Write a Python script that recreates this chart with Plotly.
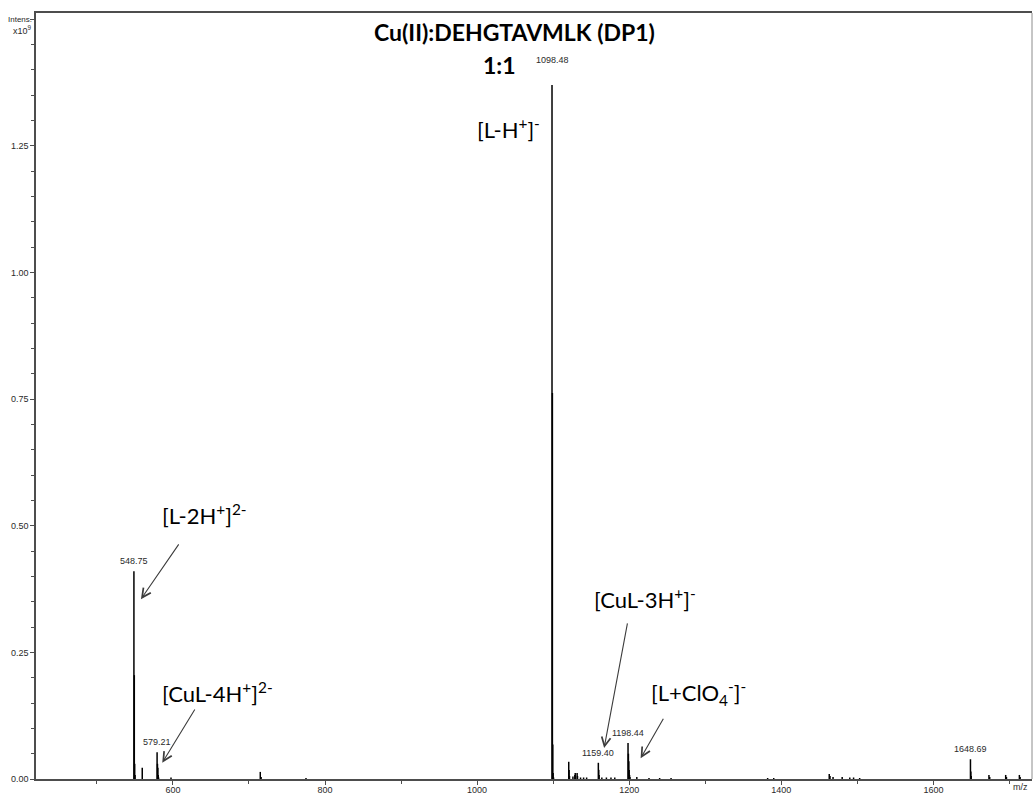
import plotly.graph_objects as go

# ---- data (intensity in units of 1e9) ----
mz = [548.75, 549.25, 549.75, 550.25, 559.7, 579.21, 579.71, 580.21, 580.71, 581.2,
      597.5, 714.9, 716.0, 775.0,
      1098.48, 1098.98, 1099.48, 1099.98, 1100.5,
      1120.46, 1120.96, 1121.46, 1126.0, 1128.5, 1129.0, 1131.5, 1132.0, 1136.0, 1140.0, 1144.0,
      1159.40, 1159.90, 1160.40, 1164.0, 1170.0, 1176.0, 1181.0,
      1198.44, 1198.94, 1199.44, 1199.94, 1200.44, 1201.0, 1210.0, 1226.0, 1240.0, 1255.0,
      1382.0, 1390.0, 1463.0, 1464.0, 1468.0, 1480.0, 1490.0, 1495.0, 1503.0,
      1648.69, 1649.19, 1649.69, 1673.0, 1674.0, 1695.0, 1696.0, 1713.0, 1714.0]
intensity = [0.410, 0.205, 0.030, 0.008, 0.022, 0.053, 0.030, 0.022, 0.008, 0.003,
             0.003, 0.014, 0.004, 0.002,
             1.370, 0.762, 0.068, 0.012, 0.003,
             0.034, 0.018, 0.006, 0.005, 0.008, 0.012, 0.012, 0.006, 0.003, 0.003, 0.003,
             0.032, 0.018, 0.008, 0.003, 0.003, 0.003, 0.003,
             0.071, 0.050, 0.035, 0.018, 0.008, 0.004, 0.004, 0.002, 0.002, 0.002,
             0.002, 0.002, 0.010, 0.006, 0.004, 0.004, 0.003, 0.003, 0.002,
             0.039, 0.015, 0.006, 0.008, 0.004, 0.008, 0.004, 0.008, 0.004]

peak_labels = ["548.75", "579.21", "1098.48", "1159.40", "1198.44", "1648.69"]
peak_label_mz = [548.75, 579.21, 1098.48, 1159.40, 1198.44, 1648.69]
peak_label_int = [0.410, 0.053, 1.370, 0.032, 0.071, 0.039]

ion_labels = ["[L-H<sup>+</sup>]<sup>-</sup>",
              "[L-2H<sup>+</sup>]<sup>2-</sup>",
              "[CuL-4H<sup>+</sup>]<sup>2-</sup>",
              "[CuL-3H<sup>+</sup>]<sup>-</sup>",
              "[L+ClO<sub>4</sub><sup>-</sup>]<sup>-</sup>"]
ion_label_mz = [997, 583, 583, 1151, 1226]
ion_label_int = [1.285, 0.522, 0.170, 0.357, 0.170]

arrow_head_mz = [None, 558, 586, 1167, 1215]
arrow_head_int = [None, 0.355, 0.032, 0.061, 0.041]
arrow_tail_mz = [None, 609, 630, 1198, 1246]
arrow_tail_int = [None, 0.466, 0.140, 0.310, 0.122]

x_ticks = [600, 800, 1000, 1200, 1400, 1600]
y_ticks = [0.0, 0.25, 0.5, 0.75, 1.0, 1.25, 1.5]
y_tick_text = ["0.00", "0.25", "0.50", "0.75", "1.00", "1.25", ""]

# ---- build stick spectrum ----
xs, ys = [], []
for m, h in zip(mz, intensity):
    xs += [m, m, None]
    ys += [0, h, None]

fig = go.Figure()
fig.add_trace(go.Scatter(x=xs, y=ys, mode="lines",
                         line=dict(color="black", width=1.5),
                         hoverinfo="skip", showlegend=False))

annotations = []
small_font = dict(family="Liberation Sans, Arial", size=9, color="#2a2a2a")
tick_font = dict(family="Liberation Sans Narrow, Liberation Sans, Arial", size=9, color="#2a2a2a")
for t, m, h in zip(peak_labels, peak_label_mz, peak_label_int):
    ys_shift = 18 if t == "1098.48" else 3
    annotations.append(dict(x=m, y=h, text=t, showarrow=False, xanchor="center",
                            yanchor="bottom", yshift=ys_shift, font=small_font))

big_font = dict(family="Lato, Carlito, sans-serif", size=22, color="black")
for t, m, h in zip(ion_labels, ion_label_mz, ion_label_int):
    annotations.append(dict(x=m, y=h, text=t, showarrow=False, xanchor="left",
                            yanchor="middle", font=big_font))

for hm, hi, tm, ti in zip(arrow_head_mz, arrow_head_int, arrow_tail_mz, arrow_tail_int):
    if hm is None:
        continue
    annotations.append(dict(x=hm, y=hi, ax=tm, ay=ti, axref="x", ayref="y",
                            xref="x", yref="y", text="", showarrow=True,
                            arrowhead=5, arrowsize=1.6, arrowwidth=1.1,
                            arrowcolor="#3c3c3c"))

W_PLOT = 1032 - 36
title_font = dict(family="Lato, Carlito, sans-serif", size=23, color="black")
annotations.append(dict(xref="paper", yref="paper", x=(514 - 36) / W_PLOT, y=(779 - 32) / 766,
                        text="<b>Cu(II):DEHGTAVMLK (DP1)</b>", showarrow=False,
                        xanchor="center", yanchor="middle", font=title_font))
annotations.append(dict(xref="paper", yref="paper", x=(499 - 36) / W_PLOT, y=(779 - 65) / 766,
                        text="<b>1:1</b>", showarrow=False,
                        xanchor="center", yanchor="middle", font=title_font))
# axis unit labels
unit_font = dict(family="Liberation Sans Narrow, Liberation Sans, Arial", size=8, color="#2a2a2a")
annotations.append(dict(xref="paper", yref="paper", x=(34 - 36) / W_PLOT, y=(779 - 19) / 766,
                        text="Intens.", showarrow=False, xanchor="right",
                        yanchor="middle", font=unit_font))
annotations.append(dict(xref="paper", yref="paper", x=(34 - 36) / W_PLOT, y=(779 - 30) / 766,
                        text="x10<sup>9</sup>", showarrow=False, xanchor="right",
                        yanchor="middle", font=dict(unit_font, size=9)))
annotations.append(dict(xref="paper", yref="paper", x=(1020 - 36) / W_PLOT, y=0, yshift=-8,
                        text="m/z", showarrow=False, xanchor="center",
                        yanchor="middle", font=tick_font))

fig.update_layout(
    width=1033, height=794,
    margin=dict(l=36, r=1, t=13, b=15, autoexpand=False),
    paper_bgcolor="white", plot_bgcolor="white",
    annotations=annotations,
    shapes=[dict(type="line", xref="paper", yref="paper", x0=1, x1=1, y0=0, y1=1,
                 line=dict(color="#8c8c8c", width=1))],
    xaxis=dict(range=[420, 1729.6], tickvals=x_ticks, ticks="outside", ticklen=4,
               tickcolor="#4d4d4d", showgrid=False, zeroline=False, automargin=False,
               showline=True, linecolor="#4d4d4d", linewidth=1.5, mirror=True,
               tickfont=tick_font, ticklabelstandoff=-3,
               minor=dict(dtick=100, tick0=0, ticks="outside", ticklen=3, tickcolor="#4d4d4d")),
    yaxis=dict(range=[0, 1.512], tickvals=y_ticks, ticktext=y_tick_text,
               ticks="outside", ticklen=4, tickcolor="#4d4d4d", showgrid=False,
               zeroline=False, showline=True, linecolor="#4d4d4d", linewidth=1.5,
               tickfont=tick_font, automargin=False,
               minor=dict(dtick=0.05, tick0=0, ticks="outside", ticklen=3, tickcolor="#4d4d4d")),
)

fig.write_html("out.html")
